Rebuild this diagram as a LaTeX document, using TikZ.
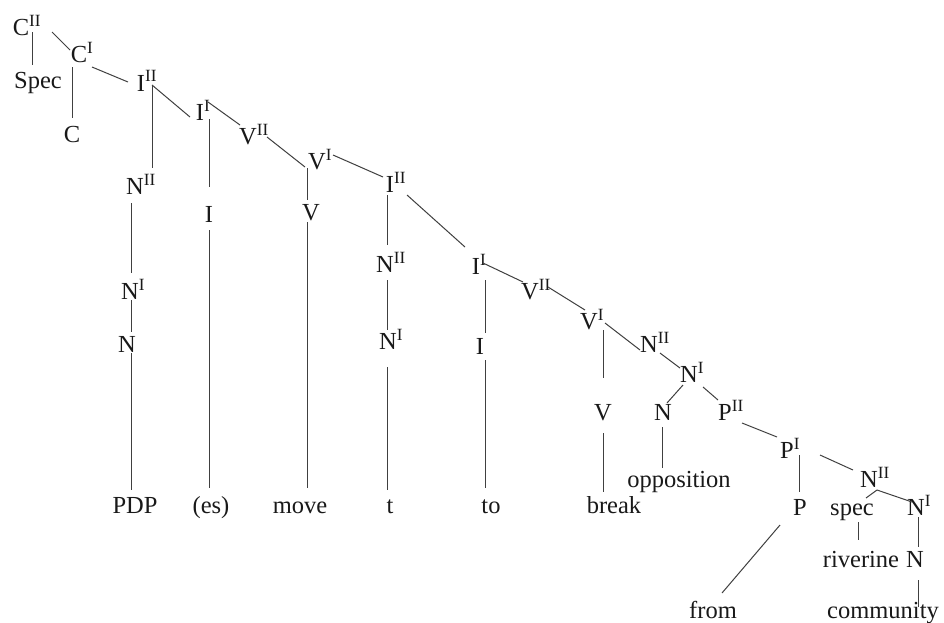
\documentclass[tikz,border=0pt]{standalone}
\usepackage{fontspec}
\setmainfont{Liberation Serif}
\newcommand\SupI{\rlap{\textsuperscript{I}}}
\newcommand\SupII{\rlap{\textsuperscript{II}}}
\newcommand\edg[6]{\draw[edgeline] ([shift={(#2,#3)}]#1.base) -- ([shift={(#5,#6)}]#4.base);}
\begin{document}
\begin{tikzpicture}[x=1pt,y=-1pt,
  lab/.style={anchor=base,inner sep=0pt,outer sep=0pt,text=black!90,font=\fontsize{24.5}{27}\selectfont},
  edgeline/.style={draw=black!75,line width=1pt}]
\useasboundingbox[fill=white] (0,0) rectangle (944,622);
% nodes
\node[lab] (cII) at (21,35.5) {C\SupII};
\node[lab] (specA) at (38,88) {Spec};
\node[lab] (cI) at (79,62.5) {C\SupI};
\node[lab] (c) at (72,142) {C};
\node[lab] (iII) at (141,91) {I\SupII};
\node[lab] (nIIa) at (135,194.5) {N\SupII};
\node[lab] (iI) at (200,120.5) {I\SupI};
\node[lab] (ia) at (209,222) {I};
\node[lab] (vII) at (248,144.5) {V\SupII};
\node[lab] (vI) at (317,169.5) {V\SupI};
\node[lab] (va) at (311,220) {V};
\node[lab] (nIa) at (130,299.5) {N\SupI};
\node[lab] (na) at (127,352.5) {N};
\node[lab] (pdp) at (135,513) {PDP};
\node[lab] (es) at (211,513) {(es)};
\node[lab] (move) at (300,513) {move};
\node[lab] (iIIb) at (390,192.5) {I\SupII};
\node[lab] (nIIb) at (385,272.5) {N\SupII};
\node[lab] (nIb) at (388,349.5) {N\SupI};
\node[lab] (t) at (390,513) {t};
\node[lab] (iIb) at (476,274.5) {I\SupI};
\node[lab] (ib) at (480,354.5) {I};
\node[lab] (to) at (491,513) {to};
\node[lab] (vIIb) at (530,299.5) {V\SupII};
\node[lab] (vIb) at (589,329.5) {V\SupI};
\node[lab] (vb) at (603,420.5) {V};
\node[lab] (brk) at (614,513) {break};
\node[lab] (nIIc) at (649,352.5) {N\SupII};
\node[lab] (nIc) at (689,382.5) {N\SupI};
\node[lab] (nc) at (663,420.5) {N};
\node[lab] (opp) at (679,487) {opposition};
\node[lab] (pII) at (725,420.5) {P\SupII};
\node[lab] (pI) at (787,458.5) {P\SupI};
\node[lab] (p) at (800,515.5) {P};
\node[lab] (from) at (713,618) {from};
\node[lab] (nIId) at (869,487.5) {N\SupII};
\node[lab] (specB) at (852,515) {spec};
\node[lab] (nId) at (916,515.5) {N\SupI};
\node[lab] (riv) at (861,567) {riverine};
\node[lab] (nd) at (915,567.5) {N};
\node[lab] (comm) at (883,618) {community};
% edges
\edg{cII}{11}{-3.5}{specA}{-6}{-23}
\edg{cII}{31}{-3.5}{cI}{-9}{-12.5}
\edg{cI}{-7}{4.5}{c}{0}{-24}
\edg{cI}{13}{4.5}{iII}{-13}{-9}
\edg{iII}{11}{-6}{nIIa}{17}{-26.5}
\edg{iII}{11}{-6}{iI}{-10}{-3.5}
\edg{iI}{9}{-1.5}{ia}{0}{-35}
\edg{ia}{0}{8}{es}{-2}{-25}
\edg{iI}{8}{-18.5}{vII}{-8}{-19.5}
\edg{vII}{19}{-7.5}{vI}{-12}{-2.5}
\edg{vI}{-10}{-1.5}{va}{-4}{-20}
\edg{va}{-4}{2}{move}{7}{-25}
\edg{nIIa}{-4}{8.5}{nIa}{1}{-26.5}
\edg{nIa}{1}{0.5}{na}{4}{-20.5}
\edg{na}{4}{0.5}{pdp}{-4}{-23}
\edg{vI}{16}{-14.5}{iIIb}{-7}{-15.5}
\edg{iIIb}{-3}{2.5}{nIIb}{2}{-27.5}
\edg{nIIb}{2}{7.5}{nIb}{-1}{-19.5}
\edg{nIb}{-1}{17.5}{t}{-3}{-23}
\edg{iIIb}{17}{2.5}{iIb}{-11}{-27.5}
\edg{iIb}{7}{-11.5}{vIIb}{-7}{-17.5}
\edg{vIIb}{18}{-12.5}{vIb}{-4}{-19.5}
\edg{iIb}{9}{5.5}{ib}{5}{-21.5}
\edg{ib}{5}{5.5}{to}{-6}{-25}
\edg{vIb}{14}{0.5}{vb}{0}{-42.5}
\edg{vb}{0}{12.5}{brk}{-11}{-21}
\edg{vIb}{16}{-6.5}{nIIc}{-9}{-2.5}
\edg{nIIc}{11}{0.5}{nIc}{-9}{-14.5}
\edg{nIc}{-6}{2.5}{nc}{4}{-17.5}
\edg{nc}{-1}{6.5}{opp}{-17}{-19}
\edg{nIc}{14}{4.5}{pII}{-7}{-20.5}
\edg{pII}{17}{2.5}{pI}{-10}{-21.5}
\edg{pI}{12}{-3.5}{p}{-1}{-23.5}
\edg{p}{-20}{9.5}{from}{9}{-25}
\edg{pI}{33}{-3.5}{nIId}{-16}{-17.5}
\edg{nIId}{8}{2.5}{specB}{14}{-17}
\edg{nIId}{8}{2.5}{nId}{-4}{-13.5}
\edg{specB}{6}{7}{riv}{-3}{-27}
\edg{nId}{2}{1.5}{nd}{3}{-20.5}
\edg{nd}{3}{12.5}{comm}{35}{-11}
\end{tikzpicture}
\end{document}
